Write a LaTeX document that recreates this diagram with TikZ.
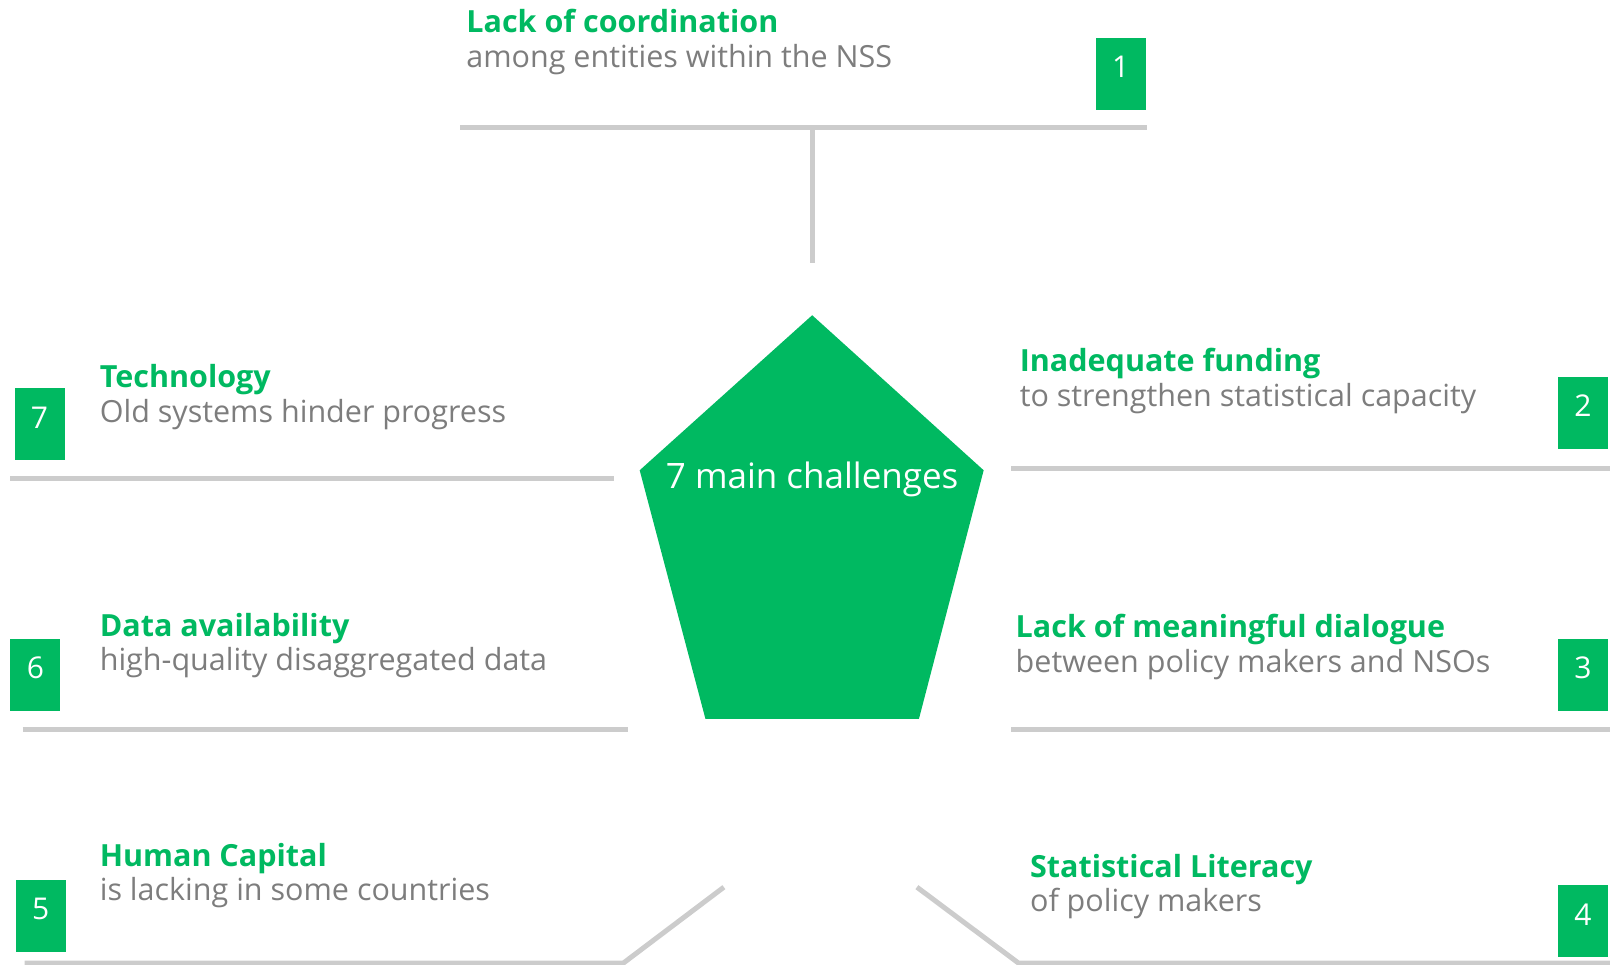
\documentclass[tikz,border=0pt]{standalone}
\usepackage{fontspec}
\setmainfont{Open Sans}
\usepackage{xcolor}
\usepackage{tikz}
\usetikzlibrary{positioning, calc}
\definecolor{challgreen}{RGB}{0,185,97}
\definecolor{textgray}{RGB}{125,125,125}
\definecolor{rulegray}{RGB}{204,204,204}

\begin{document}
\begin{tikzpicture}[x=1.0268pt, y=-1.0268pt]
			\useasboundingbox (0,0) rectangle (1568,939.8);
			\tikzstyle{badge}=[fill=challgreen, draw=none, minimum width=50pt, minimum height=72pt, inner sep=0pt, text height=22pt, text depth=14.6pt, anchor=north west, text=white, font=\fontsize{30}{36}\selectfont]
			\tikzstyle{title}=[anchor=base west, inner sep=0pt, text=challgreen, font=\fontsize{30.5}{36}\selectfont\bfseries]
			\tikzstyle{sub}=[anchor=base west, inner sep=0pt, text=textgray, font=\fontsize{30.5}{36}\selectfont]
			\tikzstyle{rule}=[draw=rulegray, line width=5pt]
			%%
			% centre pentagon
			\coordinate (p1) at (791,307);
			\coordinate (p2) at (958,458);
			\coordinate (p3) at (895,700);
			\coordinate (p4) at (687,700);
			\coordinate (p5) at (623,458);
			\fill[challgreen] (p1) -- (p2) -- (p3) -- (p4) -- (p5) -- cycle;
			\node (hub) at (791,467) [text=white, inner sep=0pt, font=\fontsize{35}{42}\selectfont] {7 main challenges};
			
			% 1
			\node (t1) at (454,32) [title] {Lack of coordination};
			\node (s1) at (454,66) [sub] {among entities within the NSS};
			\node (b1) at (1067,37) [badge] {1};
			\coordinate (r1a) at (448,124);
			\coordinate (r1b) at (1117,124);
			\coordinate (r1c) at (791,124);
			\coordinate (r1d) at (791,256);
			\draw[rule] (r1a) -- (r1b);
			\draw[rule] (r1c) -- (r1d);
			
			% 2
			\node (t2) at (993,362) [title] {Inadequate funding};
			\node (s2) at (993,396) [sub] {to strengthen statistical capacity};
			\node (b2) at (1517,367) [badge] {2};
			\coordinate (r2a) at (985,456);
			\coordinate (r2b) at (1568,456);
			\draw[rule] (r2a) -- (r2b);
			
			% 3
			\node (t3) at (989,621) [title] {Lack of meaningful dialogue};
			\node (s3) at (989,655) [sub] {between policy makers and NSOs};
			\node (b3) at (1517,622) [badge] {3};
			\coordinate (r3a) at (985,710);
			\coordinate (r3b) at (1568,710);
			\draw[rule] (r3a) -- (r3b);
			
			% 4
			\node (t4) at (1003,855) [title] {Statistical Literacy};
			\node (s4) at (1003,888) [sub] {of policy makers};
			\node (b4) at (1517,862) [badge] {4};
			\coordinate (r4a) at (893,864);
			\coordinate (r4b) at (992,938);
			\coordinate (r4c) at (1568,938);
			\draw[rule] (r4a) -- (r4b) -- (r4c);
			
			% 5
			\node (t5) at (97,844) [title] {Human Capital};
			\node (s5) at (97,877) [sub] {is lacking in some countries};
			\node (b5) at (15,857) [badge] {5};
			\coordinate (r5a) at (24,938);
			\coordinate (r5b) at (607,938);
			\coordinate (r5c) at (705,864);
			\draw[rule] (r5a) -- (r5b) -- (r5c);
			
			% 6
			\node (t6) at (97,620) [title] {Data availability};
			\node (s6) at (97,653) [sub] {high-quality disaggregated data};
			\node (b6) at (10,622) [badge] {6};
			\coordinate (r6a) at (22,710);
			\coordinate (r6b) at (612,710);
			\draw[rule] (r6a) -- (r6b);
			
			% 7
			\node (t7) at (97,377) [title] {Technology};
			\node (s7) at (97,411) [sub] {Old systems hinder progress};
			\node (b7) at (14,378) [badge] {7};
			\coordinate (r7a) at (10,466);
			\coordinate (r7b) at (598,466);
			\draw[rule] (r7a) -- (r7b);
\end{tikzpicture}
\end{document}
